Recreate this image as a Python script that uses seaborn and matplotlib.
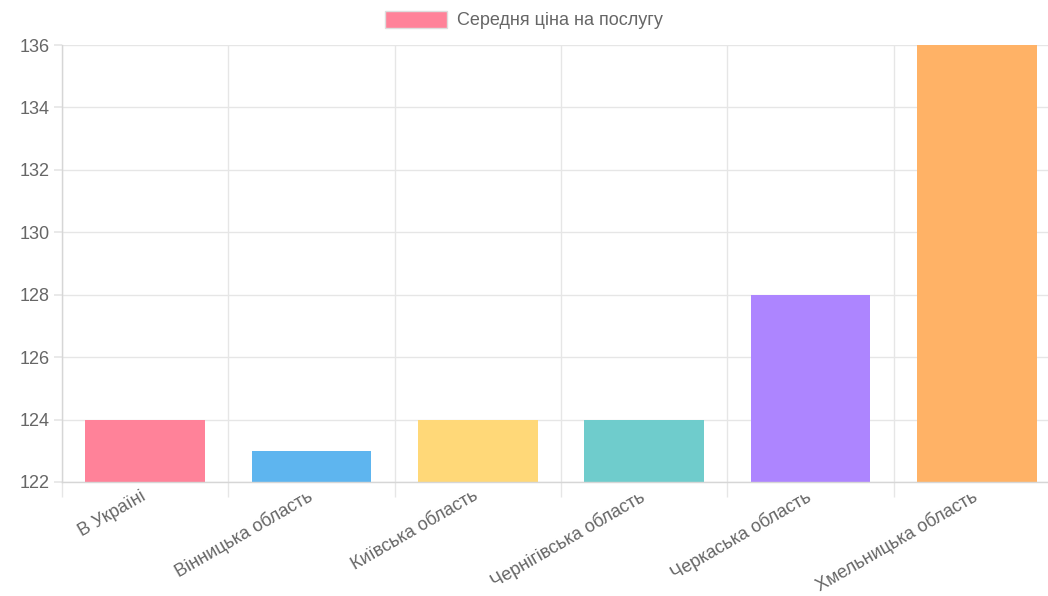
import matplotlib
matplotlib.use("Agg")
import matplotlib.pyplot as plt
import matplotlib.transforms as mtransforms
import seaborn as sns
import pandas as pd
import numpy as np
from matplotlib.patches import Patch

categories = ["В Україні", "Вінницька область", "Київська область",
              "Чернігівська область", "Черкаська область", "Хмельницька область"]
values = [124, 123, 124, 124, 128, 136]
colors = ["#FF8299", "#5EB5EF", "#FFD878", "#6FCCCC", "#AD85FF", "#FFB266"]
series_name = "Середня ціна на послугу"
y_ticks = [122, 124, 126, 128, 130, 132, 134, 136]

sns.set_theme(style="white")
plt.rcParams["font.family"] = ["Liberation Sans", "DejaVu Sans"]

fig = plt.figure(figsize=(10.48, 5.96), dpi=100)
ax = fig.add_axes([62/1048, 1-482/596, (1060-62)/1048, (482-45)/596])

df = pd.DataFrame({"cat": categories, "val": values})
sns.barplot(data=df, x="cat", y="val", hue="cat", palette=colors, width=0.72,
            legend=False, ax=ax, saturation=1, linewidth=0)

grid_c = "#e6e6e6"
ax.set_ylim(122, 136)
ax.set_xlim(-0.5, len(categories) - 0.5)
ax.set_yticks(y_ticks)
ax.set_yticklabels([str(t) for t in y_ticks])
ax.set_xticks(range(len(categories)))
ax.set_xticklabels(categories, rotation=30, ha="right", rotation_mode="anchor")
ax.set_xticks(np.arange(-0.5, len(categories), 1.0), minor=True)
ax.set_xlabel("")
ax.set_ylabel("")

ax.grid(True, axis="y", color=grid_c, linewidth=1)
ax.grid(True, axis="x", which="minor", color=grid_c, linewidth=1)
ax.grid(False, axis="x", which="major")
ax.set_axisbelow(True)
for s in ["top", "right"]:
    ax.spines[s].set_visible(False)
for s in ["left", "bottom"]:
    ax.spines[s].set_color("#d6d6d6")
    ax.spines[s].set_linewidth(1)

ax.tick_params(axis="y", which="major", length=5.8, color=grid_c, labelsize=13,
               labelcolor="#666666", pad=3, left=True)
ax.tick_params(axis="x", which="major", length=0, labelsize=13, labelcolor="#666666", pad=4)
ax.tick_params(axis="x", which="minor", length=10.8, color=grid_c, bottom=True)

offset = mtransforms.ScaledTranslation(-5/100, 0, fig.dpi_scale_trans)
for lbl in ax.get_xticklabels():
    lbl.set_transform(lbl.get_transform() + offset)

handle = Patch(facecolor=colors[0], edgecolor="#dddddd", linewidth=1)
fig.legend([handle], [series_name], loc="center", bbox_to_anchor=(0.5, 1 - 20/596),
           frameon=False, handlelength=3.4, handleheight=1.1, fontsize=13,
           labelcolor="#666666", handletextpad=0.55, borderaxespad=0, borderpad=0)

fig.savefig("out.png", dpi=100)
